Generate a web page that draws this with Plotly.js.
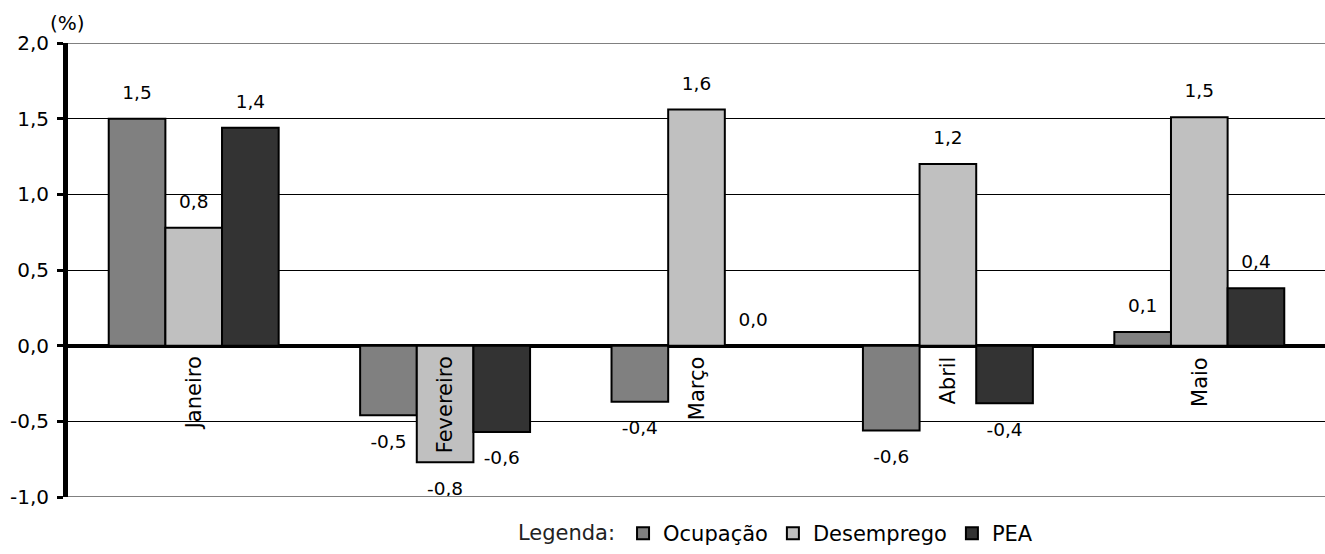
<!DOCTYPE html>
<html>
<head>
<meta charset="utf-8">
<script src="https://cdn.plot.ly/plotly-3.0.1.min.js"></script>
<style>
  html, body { margin: 0; padding: 0; background: #fff; }
  #chart { width: 1325px; height: 554px; }
</style>
</head>
<body>
<div id="chart"></div>
<script>
// Monthly variation (%) of occupation, unemployment and the economically active population
const months = ['Janeiro', 'Fevereiro', 'Março', 'Abril', 'Maio'];
const seriesNames = ['Ocupação', 'Desemprego', 'PEA'];
const ocupacao   = [1.50, -0.46, -0.37, -0.56, 0.09];
const desemprego = [0.78, -0.77, 1.56, 1.20, 1.51];
const pea        = [1.44, -0.57, 0.00, -0.38, 0.38];
const yTickVals   = [-1.0, -0.5, 0.0, 0.5, 1.0, 1.5, 2.0];
const yTickLabels = ['-1,0', '-0,5', '0,0', '0,5', '1,0', '1,5', '2,0'];

const seriesValues = [ocupacao, desemprego, pea];
const fills = ['#808080', '#c0c0c0', '#333333'];
const FONT = '"DejaVu Sans", Verdana, sans-serif';
const BARGAP = 0.324;

// one decimal, comma as decimal separator
const fmt = v => v.toFixed(1).replace('.', ',');

const bars = seriesValues.map((vals, i) => ({
  type: 'bar',
  name: seriesNames[i],
  x: months,
  y: vals,
  offsetgroup: 'g' + i,
  marker: { color: fills[i], line: { color: '#000', width: 2 } },
  hoverinfo: 'skip'
}));

// value labels, kept at a fixed distance from the bar ends via invisible markers
const valueLabels = seriesValues.map((vals, i) => ({
  type: 'scatter',
  mode: 'markers+text',
  x: months,
  y: vals,
  offsetgroup: 'g' + i,
  text: vals.map(fmt),
  textposition: vals.map(v => v >= 0 ? 'top center' : 'bottom center'),
  textfont: { family: FONT, size: 18.5, color: '#000' },
  marker: { size: vals.map(v => v >= 0 ? 23 : 28), opacity: 0 },
  showlegend: false,
  hoverinfo: 'skip',
  cliponaxis: false
}));

// month names written vertically just under the zero line
const monthLabels = months.map(m => ({
  x: m, y: 0, xref: 'x', yref: 'y',
  text: m,
  textangle: -90,
  showarrow: false,
  xanchor: 'center', yanchor: 'top',
  yshift: -9,
  font: { family: FONT, size: 21, color: '#000' }
}));

const unitLabel = {
  x: 0, y: 1, xref: 'paper', yref: 'paper',
  text: '(%)', showarrow: false,
  xanchor: 'center', yanchor: 'bottom',
  xshift: -1, yshift: 6,
  font: { family: FONT, size: 20, color: '#000' }
};

const yMin = yTickVals[0];
const yMax = yTickVals[yTickVals.length - 1];

const borderLines = [yMax, yMin].map(v => ({
  type: 'line', xref: 'paper', x0: 0, x1: 1, yref: 'y', y0: v, y1: v,
  line: { color: '#808080', width: 2 },
  layer: 'above'
}));

const layout = {
  width: 1325,
  height: 554,
  margin: { l: 68, r: 0, t: 43, b: 57 },
  paper_bgcolor: '#fff',
  plot_bgcolor: '#fff',
  barmode: 'group',
  bargap: BARGAP,
  bargroupgap: 0,
  scattermode: 'group',
  scattergap: BARGAP,
  font: { family: FONT, color: '#000' },
  xaxis: {
    type: 'category',
    showticklabels: false,
    ticks: '',
    showgrid: false,
    zeroline: false,
    showline: false,
    fixedrange: true
  },
  yaxis: {
    range: [yMin, yMax],
    tickvals: yTickVals,
    ticktext: yTickLabels,
    ticks: 'outside',
    ticklen: 6,
    tickwidth: 3,
    tickcolor: '#000',
    ticklabelstandoff: 4,
    showline: true,
    linecolor: '#000',
    linewidth: 5,
    showgrid: true,
    gridcolor: '#000',
    gridwidth: 1,
    zeroline: true,
    zerolinecolor: '#000',
    zerolinewidth: 4,
    tickfont: { family: FONT, size: 20, color: '#000' },
    fixedrange: true
  },
  legend: {
    orientation: 'h',
    x: 0.564, xanchor: 'center',
    yref: 'container',
    y: 0, yanchor: 'bottom',
    font: { family: FONT, size: 21, color: '#000' },
    title: { text: 'Legenda:', side: 'left', font: { family: FONT, size: 21, color: '#222' } },
    itemclick: false,
    itemdoubleclick: false
  },
  shapes: borderLines,
  annotations: monthLabels.concat([unitLabel])
};

Plotly.newPlot('chart', bars.concat(valueLabels), layout, { displayModeBar: false, staticPlot: true });
</script>
</body>
</html>
